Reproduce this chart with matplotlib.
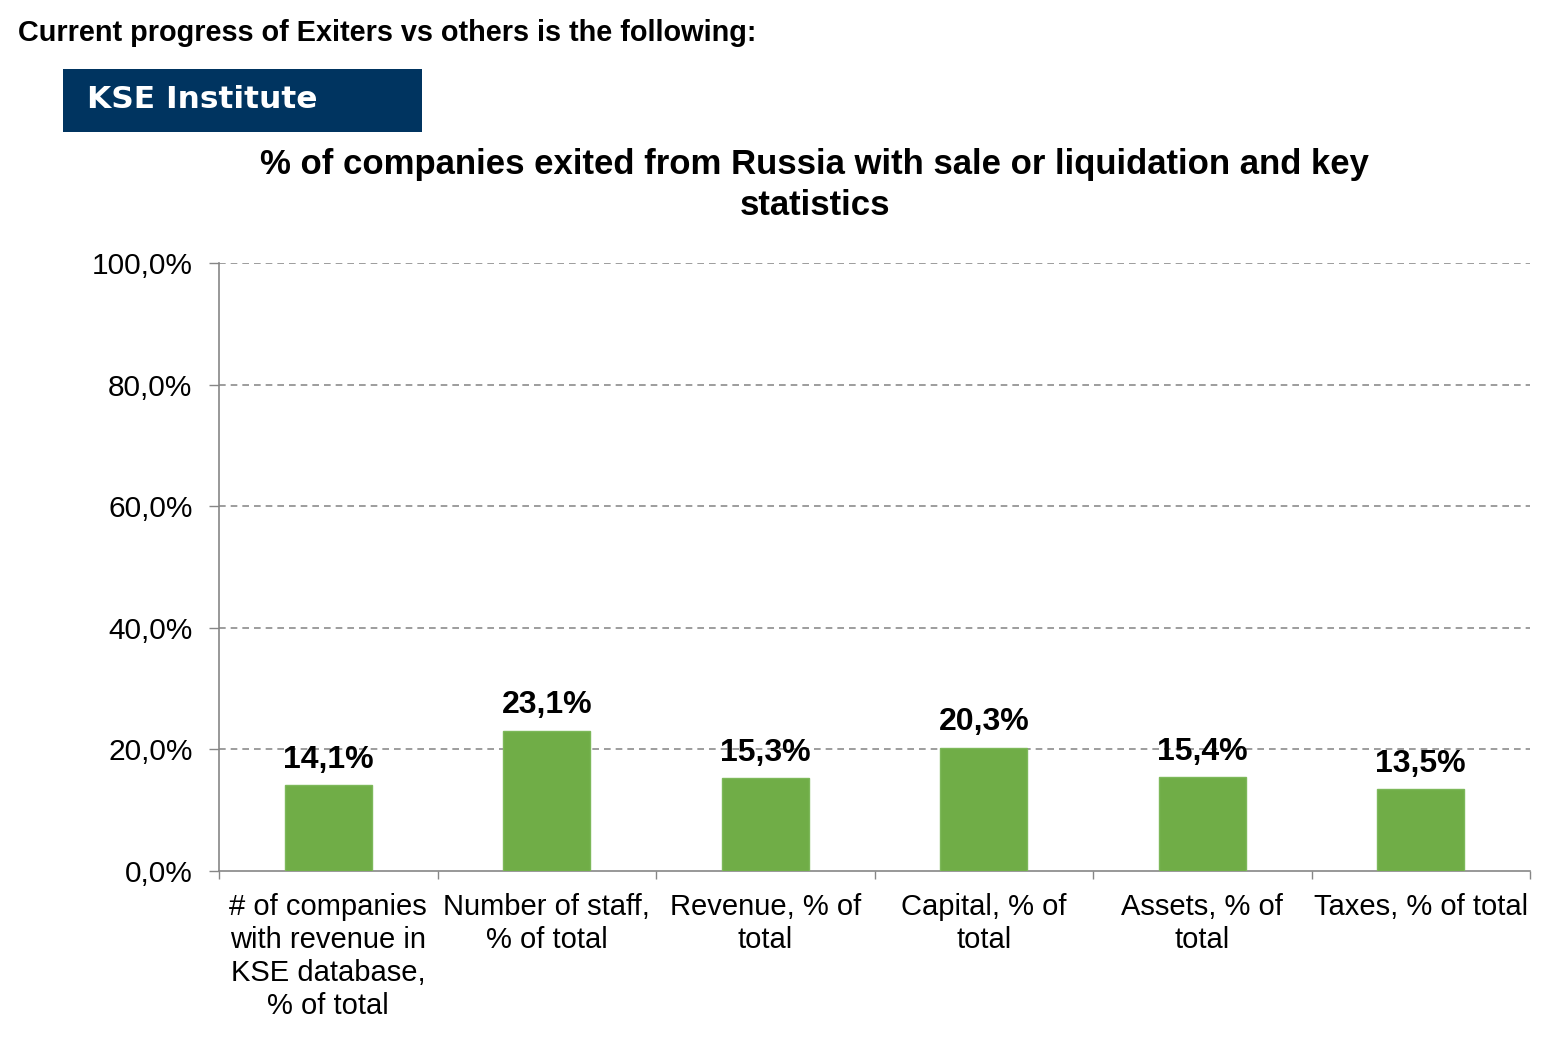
import matplotlib
matplotlib.use("Agg")
import matplotlib.pyplot as plt
from matplotlib.patches import Rectangle
import numpy as np

categories = [
    "# of companies\nwith revenue in\nKSE database,\n% of total",
    "Number of staff,\n% of total",
    "Revenue, % of\ntotal",
    "Capital, % of\ntotal",
    "Assets, % of\ntotal",
    "Taxes, % of total",
]
values = [14.1, 23.1, 15.3, 20.3, 15.4, 13.5]
yticks = [0, 20, 40, 60, 80, 100]

plt.rcParams['font.family'] = ['Liberation Sans', 'DejaVu Sans']

fig = plt.figure(figsize=(15.64, 10.42), dpi=100)
ax = fig.add_axes([219/1564, 1-871/1042, (1530-219)/1564, (871-263)/1042])

x = np.arange(len(values))
ax.bar(x, values, width=0.4, color="#70AD47", edgecolor="#7DB85A", linewidth=1, zorder=3)
for xi, v in zip(x, values):
    ax.text(xi, v + 1.7, f"{v:.1f}%".replace(".", ","), ha="center", va="bottom",
            fontsize=23, fontweight="bold", color="#000000", zorder=4)

ax.set_xlim(-0.5, len(values) - 0.5)
ax.set_ylim(0, 100)
ax.set_yticks(yticks)
ax.set_yticklabels([f"{t:.1f}%".replace(".", ",") for t in yticks], fontsize=21.5)
ax.tick_params(axis="y", length=7, width=1, color="#868686", pad=12)

ax.set_xticks(np.arange(-0.5, len(values)), minor=False)
ax.set_xticklabels([""] * (len(values) + 1))
ax.tick_params(axis="x", which="major", length=6, width=1, color="#868686")
ax.set_xticks(x, minor=True)
ax.set_xticklabels(categories, minor=True, fontsize=21, linespacing=1.22)
ax.tick_params(axis="x", which="minor", length=0, pad=16)

for yt in yticks[1:]:
    ax.axhline(yt, color="#8C8C8C", linestyle=(0, (4, 3)), linewidth=1.2, zorder=1)

for s in ["top", "right"]:
    ax.spines[s].set_visible(False)
ax.spines["left"].set_color("#868686")
ax.spines["bottom"].set_color("#868686")
ax.spines["left"].set_linewidth(1.2)
ax.spines["bottom"].set_linewidth(1.2)

fig.text(815/1564, 1-185/1042,
         "% of companies exited from Russia with sale or liquidation and key\nstatistics",
         ha="center", va="center", fontsize=25, fontweight="bold", linespacing=1.3)

fig.text(18/1564, 1-33/1042, "Current progress of Exiters vs others is the following:",
         ha="left", va="center", fontsize=20.8, fontweight="bold")

fig.patches.append(Rectangle((63/1564, 1-132/1042), (422-63)/1564, (132-69)/1042,
                             transform=fig.transFigure, facecolor="#003460",
                             edgecolor="none", zorder=1))
fig.text(87/1564, 1-99/1042, "KSE Institute", ha="left", va="center",
         fontsize=22.5, fontweight="bold", color="white", family="DejaVu Sans")

fig.savefig("out.png", dpi=100)
